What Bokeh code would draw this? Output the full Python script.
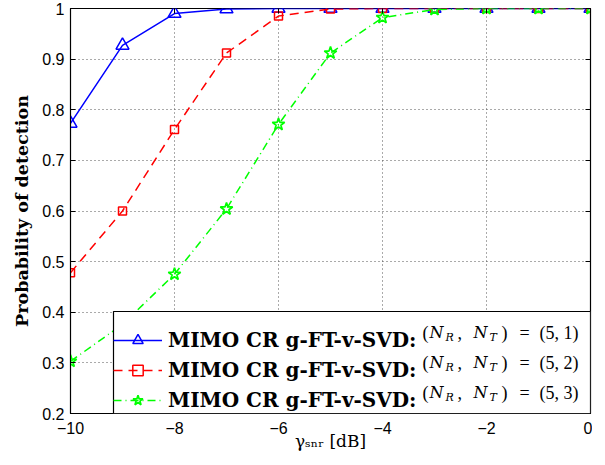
from bokeh.plotting import figure
from bokeh.models import (Legend, LegendItem, Label, LinearAxis, FixedTicker, Range1d,
                          BoxAnnotation)
from bokeh.embed import file_html
from bokeh.resources import INLINE

# ---- data ----
snr_db = [-10, -9, -8, -7, -6, -5, -4, -3, -2, -1, 0]
pd_nt1 = [0.773, 0.927, 0.990, 0.999, 1.0, 1.0, 1.0, 1.0, 1.0, 1.0, 1.0]
pd_nt2 = [0.478, 0.600, 0.761, 0.912, 0.985, 0.999, 1.0, 1.0, 1.0, 1.0, 1.0]
pd_nt3 = [0.303, 0.376, 0.475, 0.604, 0.771, 0.912, 0.982, 0.998, 1.0, 1.0, 1.0]
series_name = "MIMO CR g-FT-v-SVD:"
nt_values = ["1", "2", "3"]
x_ticks = [-10, -8, -6, -4, -2, 0]
y_ticks = [0.2, 0.3, 0.4, 0.5, 0.6, 0.7, 0.8, 0.9, 1.0]
y_tick_labels = ["0.2", "0.3", "0.4", "0.5", "0.6", "0.7", "0.8", "0.9", "1"]
x_tick_labels = ["\u221210", "\u22128", "\u22126", "\u22124", "\u22122", "0"]
x_label = "\u03b3\u209b\u2099\u1d63 [dB]"
y_label = "Probability of detection"

TICK_FONT = "Liberation Sans"
SERIF = "DejaVu Serif"
MATH = "Liberation Serif"

X0, X1, Y0, Y1 = -10, 0, 0.2, 1.0
FRAME_W, FRAME_H = 520, 405

p = figure(frame_width=FRAME_W, frame_height=FRAME_H,
           min_border_left=70, min_border_right=2, min_border_top=8, min_border_bottom=38,
           x_range=Range1d(X0, X1), y_range=Range1d(Y0, Y1),
           output_backend="svg", toolbar_location=None,
           background_fill_color="white", border_fill_color="white")

p.outline_line_color = "black"
p.outline_line_width = 1.2

for ax in (p.xaxis, p.yaxis):
    ax.major_tick_in = 5
    ax.major_tick_out = 0
    ax.minor_tick_line_color = None
    ax.axis_line_color = "black"
    ax.major_tick_line_color = "black"
    ax.major_label_text_font = TICK_FONT
    ax.major_label_text_font_size = "16px"
    ax.major_label_text_color = "black"

p.xaxis.ticker = FixedTicker(ticks=x_ticks)
p.yaxis.ticker = FixedTicker(ticks=y_ticks)
p.xaxis.major_label_overrides = {t: s for t, s in zip(x_ticks, x_tick_labels)}
p.yaxis.major_label_overrides = {t: s for t, s in zip(y_ticks, y_tick_labels)}
p.xaxis.major_label_standoff = 8
p.yaxis.major_label_standoff = 6

p.yaxis.axis_label = y_label
p.yaxis.axis_label_text_font = SERIF
p.yaxis.axis_label_text_font_style = "bold"
p.yaxis.axis_label_text_font_size = "17.5px"
p.yaxis.axis_label_standoff = 7
p.yaxis.axis_label_text_color = "black"

p.xaxis.axis_label = x_label
p.xaxis.axis_label_text_font = SERIF
p.xaxis.axis_label_text_font_style = "normal"
p.xaxis.axis_label_text_font_size = "17px"
p.xaxis.axis_label_standoff = -6
p.xaxis.axis_label_text_color = "black"

# box axes (top / right) with inward ticks, no labels
top = LinearAxis(ticker=FixedTicker(ticks=x_ticks), major_tick_in=5, major_tick_out=0,
                 minor_tick_line_color=None, axis_line_color=None,
                 major_label_text_color=None, major_label_text_font_size="1px",
                 major_label_standoff=0)
right = LinearAxis(ticker=FixedTicker(ticks=y_ticks), major_tick_in=5, major_tick_out=0,
                   minor_tick_line_color=None, axis_line_color=None,
                   major_label_text_color=None, major_label_text_font_size="1px",
                   major_label_standoff=0)
p.add_layout(top, "above")
p.add_layout(right, "right")

for g, ticks in ((p.xgrid, x_ticks), (p.ygrid, y_ticks)):
    g.ticker = FixedTicker(ticks=ticks)
    g.grid_line_color = "#555555"
    g.grid_line_dash = "1 3"
    g.grid_line_width = 1

# ---- series ----
l1 = p.line(snr_db, pd_nt1, line_color="#0000ff", line_width=1.5)
m1 = p.scatter(snr_db, pd_nt1, marker="triangle", size=13, line_color="#0000ff",
               fill_color=None, line_width=1.5)
l2 = p.line(snr_db, pd_nt2, line_color="#ff0000", line_width=1.5, line_dash="9 6")
m2 = p.scatter(snr_db, pd_nt2, marker="square", size=8, line_color="#ff0000",
               fill_color=None, line_width=1.5)
l3 = p.line(snr_db, pd_nt3, line_color="#00ff00", line_width=1.5, line_dash="8 4 1 4")
m3 = p.scatter(snr_db, pd_nt3, marker="star", size=13, line_color="#00ff00",
               fill_color=None, line_width=1.7)

# ---- legend: white box behind, transparent legend on top, math text as labels ----
LEG_LEFT_PX, LEG_H_PX = 43, 102
box = BoxAnnotation(left=X0 + LEG_LEFT_PX * (X1 - X0) / FRAME_W, right=X1,
                    bottom=Y0, top=Y0 + LEG_H_PX * (Y1 - Y0) / FRAME_H,
                    fill_color="white", fill_alpha=1.0,
                    line_color="black", line_width=1.2, line_alpha=1.0,
                    level="annotation")
p.add_layout(box)

legend = Legend(items=[LegendItem(label=series_name, renderers=[l1, m1]),
                       LegendItem(label=series_name, renderers=[l2, m2]),
                       LegendItem(label=series_name, renderers=[l3, m3])],
                location=(LEG_LEFT_PX, 0), glyph_width=49, glyph_height=26, label_height=26,
                padding=8, spacing=4, label_standoff=6, label_width=406, margin=0,
                label_text_font=SERIF, label_text_font_style="bold",
                label_text_font_size="20px", label_text_color="black",
                border_line_color=None, background_fill_alpha=0.0)
p.add_layout(legend)

# (N_R, N_T) = (5, n): text pieces (font, style, size, x offset, y offset)
row_centers = [81, 51, 21]
pieces = [("(", MATH, "normal", 18, 352, 0), ("N", SERIF, "italic", 16, 359, 0),
          ("R", SERIF, "italic", 11, 375, -5), (",", MATH, "normal", 18, 387, 0),
          ("N", SERIF, "italic", 16, 403, 0), ("T", SERIF, "italic", 11, 419, -5),
          (")", MATH, "normal", 18, 431, 0), ("=", MATH, "normal", 18, 449, 0)]
for yc, n in zip(row_centers, nt_values):
    for txt, font, style, size, xx, dy in pieces + [("(5, " + n + ")", MATH, "normal", 18, 469, 0)]:
        p.add_layout(Label(x=xx, y=yc + dy, x_units="screen", y_units="screen", text=txt,
                           text_font=font, text_font_style=style, text_font_size=f"{size}px",
                           text_baseline="middle", text_align="left", text_color="black",
                           level="overlay"))

open("out.html", "w").write(file_html(p, INLINE))
